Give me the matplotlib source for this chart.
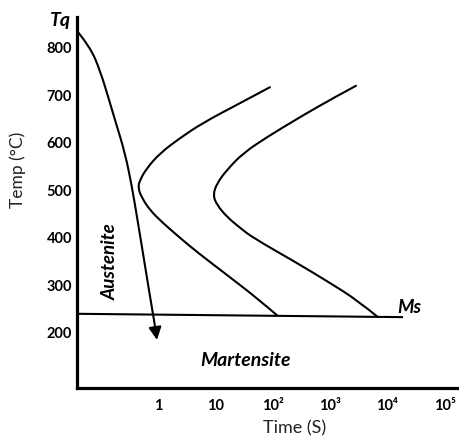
import matplotlib
matplotlib.use("Agg")
import numpy as np
import matplotlib.pyplot as plt
from matplotlib.path import Path
from matplotlib.patches import PathPatch

plt.rcParams['font.family'] = ['Lato', 'DejaVu Sans']

# ---- data (time in s, temperature in °C) ----
start_time = [89, 23.6, 6.0, 2.39, 1.07, 0.635, 0.479, 0.442, 0.519, 0.716, 1.21, 2.39, 4.74, 17.8, 52.8, 118]
start_temp = [717, 680, 642, 610, 578, 547, 522, 505, 484, 458, 431, 400, 370, 317, 273, 237]

finish_time = [2825, 1120, 297, 78.9, 30.1, 15.8, 10.6, 9.0, 10.6, 15.8, 26.7, 45.0, 264, 993, 2939, 6839]
finish_temp = [720, 694, 654, 612, 578, 543, 515, 490, 469, 444, 421, 400, 347, 305, 269, 233]

cool_time = [0.0397, 0.0643, 0.096, 0.1435, 0.1755, 0.2624, 0.3475, 0.4248, 0.530, 0.674, 0.841, 0.949]
cool_temp = [833, 802, 753, 684, 648, 579, 507, 444, 374, 296, 227, 185]

ms_time = [0.0389, 18000]
ms_temp = [240, 233]

ytick_vals = [800, 700, 600, 500, 400, 300, 200]
ytick_labels = ['800', '700', '600', '500', '400', '300', '200']
xtick_vals = [1, 10, 100, 1000, 10000, 100000]
xtick_labels = ['1', '10', '10²', '10³', '10⁴', '10⁵']


def smooth_curve(ax, times, temps, **kw):
    """Quadratic-Bezier path through the read points (midpoint scheme, log-x)."""
    lt = np.log10(times)
    tp = np.asarray(temps, float)
    verts = [(times[0], temps[0])]
    codes = [Path.MOVETO]
    for i in range(1, len(times) - 1):
        mid_t = 10 ** ((lt[i] + lt[i + 1]) / 2)
        mid_T = (tp[i] + tp[i + 1]) / 2
        if i == len(times) - 2:
            mid_t, mid_T = times[-1], temps[-1]
        verts += [(times[i], temps[i]), (mid_t, mid_T)]
        codes += [Path.CURVE3, Path.CURVE3]
    patch = PathPatch(Path(verts, codes), facecolor='none', transform=ax.transData,
                      capstyle='round', joinstyle='round', **kw)
    ax.add_patch(patch)


# ---- figure ----
fig = plt.figure(figsize=(4.6, 4.37), dpi=100)
ax = fig.add_axes([77.5 / 460, (437 - 388) / 437, (460 - 77.5) / 460, (388 - 17) / 437])
ax.set_xscale('log')
ax.set_xlim(0.0389, 184800)
ax.set_ylim(83.8, 864.8)

for s in ['top', 'right']:
    ax.spines[s].set_visible(False)
for s in ['left', 'bottom']:
    ax.spines[s].set_linewidth(2.3)
    ax.spines[s].set_color('black')

lw = 1.5
smooth_curve(ax, start_time, start_temp, edgecolor='black', lw=lw)
smooth_curve(ax, finish_time, finish_temp, edgecolor='black', lw=lw)
ax.plot(ms_time, ms_temp, color='black', lw=lw)
smooth_curve(ax, cool_time[:-1], cool_temp[:-1], edgecolor='black', lw=lw)
ax.annotate('', xy=(cool_time[-1], cool_temp[-1]), xytext=(cool_time[-2], cool_temp[-2]),
            arrowprops=dict(arrowstyle='-|>', color='black', lw=lw, mutation_scale=19,
                            shrinkA=0, shrinkB=0))

ax.set_yticks(ytick_vals)
ax.set_yticklabels(ytick_labels, fontsize=10.5, fontweight='bold')
ax.set_xticks(xtick_vals)
ax.set_xticklabels(xtick_labels, fontsize=10.5, fontweight='bold')
ax.xaxis.set_minor_locator(matplotlib.ticker.NullLocator())
ax.tick_params(axis='both', length=0)
ax.tick_params(axis='y', pad=4)
ax.tick_params(axis='x', pad=8)

# texts
ax.text(0.0193, 858, 'Tq', fontsize=14, fontweight='bold', fontstyle='italic',
        ha='center', va='center', clip_on=False)
ax.text(14700, 236, 'Ms', fontsize=13.5, fontweight='bold', fontstyle='italic',
        ha='left', va='bottom')
ax.text(0.1436, 349, 'Austenite', fontsize=13.5, fontweight='bold', fontstyle='italic',
        rotation=90, ha='center', va='center')
ax.text(32.7, 141, 'Martensite', fontsize=14, fontweight='bold', fontstyle='italic',
        ha='center', va='center')

fig.text(295 / 460, 1 - 428 / 437, 'Time (S)', fontsize=13, ha='center', va='center', color='#222222')
fig.text(18 / 460, 1 - 170 / 437, 'Temp (°C)', fontsize=12.5, ha='center', va='center',
         rotation=90, color='#222222')

fig.savefig('out.png', dpi=100)
